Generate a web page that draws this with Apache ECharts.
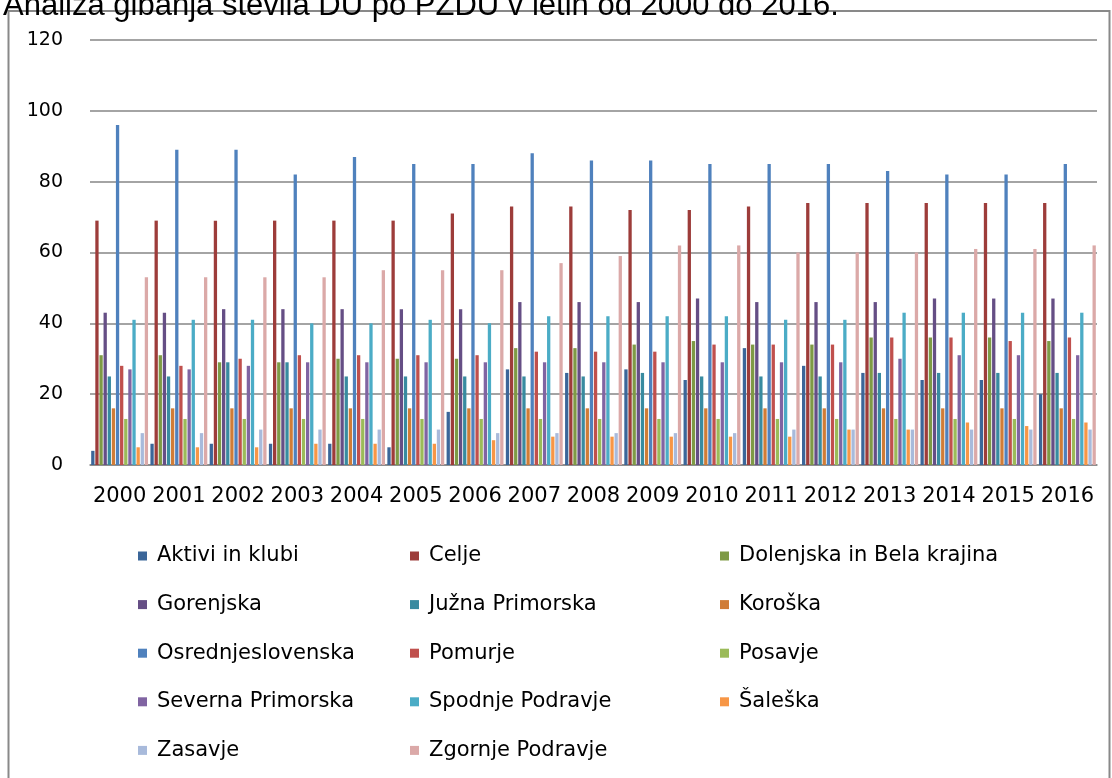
<!DOCTYPE html>
<html>
<head>
<meta charset="utf-8">
<script src="https://cdn.jsdelivr.net/npm/echarts@6/dist/echarts.min.js"></script>
<style>
  html, body { margin: 0; padding: 0; background: #fff; }
  #chart { width: 1112px; height: 778px; }
</style>
</head>
<body>
<div id="chart"></div>
<script>
// leta (kategorije)
var years = ['2000', '2001', '2002', '2003', '2004', '2005', '2006', '2007', '2008',
  '2009', '2010', '2011', '2012', '2013', '2014', '2015', '2016'];

var yTicks = [0, 20, 40, 60, 80, 100, 120];

// število DU po PZDU
var aktivi      = [4, 6, 6, 6, 6, 5, 15, 27, 26, 27, 24, 33, 28, 26, 24, 24, 20];
var celje       = [69, 69, 69, 69, 69, 69, 71, 73, 73, 72, 72, 73, 74, 74, 74, 74, 74];
var dolenjska   = [31, 31, 29, 29, 30, 30, 30, 33, 33, 34, 35, 34, 34, 36, 36, 36, 35];
var gorenjska   = [43, 43, 44, 44, 44, 44, 44, 46, 46, 46, 47, 46, 46, 46, 47, 47, 47];
var juzna       = [25, 25, 29, 29, 25, 25, 25, 25, 25, 26, 25, 25, 25, 26, 26, 26, 26];
var koroska     = [16, 16, 16, 16, 16, 16, 16, 16, 16, 16, 16, 16, 16, 16, 16, 16, 16];
var osrednje    = [96, 89, 89, 82, 87, 85, 85, 88, 86, 86, 85, 85, 85, 83, 82, 82, 85];
var pomurje     = [28, 28, 30, 31, 31, 31, 31, 32, 32, 32, 34, 34, 34, 36, 36, 35, 36];
var posavje     = [13, 13, 13, 13, 13, 13, 13, 13, 13, 13, 13, 13, 13, 13, 13, 13, 13];
var severna     = [27, 27, 28, 29, 29, 29, 29, 29, 29, 29, 29, 29, 29, 30, 31, 31, 31];
var spodnje     = [41, 41, 41, 40, 40, 41, 40, 42, 42, 42, 42, 41, 41, 43, 43, 43, 43];
var saleska     = [5, 5, 5, 6, 6, 6, 7, 8, 8, 8, 8, 8, 10, 10, 12, 11, 12];
var zasavje     = [9, 9, 10, 10, 10, 10, 9, 9, 9, 9, 9, 10, 10, 10, 10, 10, 10];
var zgornje     = [53, 53, 53, 53, 55, 55, 55, 57, 59, 62, 62, 60, 60, 60, 61, 61, 62];

var names = ['Aktivi in klubi', 'Celje', 'Dolenjska in Bela krajina', 'Gorenjska',
  'Južna Primorska', 'Koroška', 'Osrednjeslovenska', 'Pomurje', 'Posavje',
  'Severna Primorska', 'Spodnje Podravje', 'Šaleška', 'Zasavje', 'Zgornje Podravje'];
var values = [aktivi, celje, dolenjska, gorenjska, juzna, koroska, osrednje,
  pomurje, posavje, severna, spodnje, saleska, zasavje, zgornje];
var colors = ['#3b6699', '#9d3c3a', '#7e9a45', '#654e85', '#388ba0', '#d07c36',
  '#4f81bd', '#c0504d', '#9bbb59', '#8064a2', '#4bacc6', '#f79646', '#a8badb', '#dba9a8'];

var chart = echarts.init(document.getElementById('chart'));

var font = 'DejaVu Sans';
var rowGap = 48.6;

function legendCol(left, idx) {
  return {
    orient: 'vertical',
    left: left,
    top: 539,
    icon: 'rect',
    itemWidth: 9,
    itemHeight: 9,
    itemGap: rowGap - 24,
    selectedMode: false,
    data: idx.map(function (i) { return names[i]; }),
    textStyle: {
      fontFamily: font,
      fontSize: 21,
      color: '#000',
      lineHeight: 24,
      padding: [0, 0, 0, 5]
    }
  };
}

chart.setOption({
  animation: false,
  color: colors,
  title: {
    text: 'Analiza gibanja števila DU po PZDU v letih od 2000 do 2016.',
    left: -2,
    top: -14,
    textStyle: {
      fontFamily: 'Liberation Sans',
      fontWeight: 'normal',
      fontSize: 31,
      color: '#000'
    }
  },
  graphic: [{
    type: 'rect',
    shape: { x: 8.5, y: 11, width: 1101, height: 800 },
    style: { fill: 'none', stroke: '#898989', lineWidth: 2 },
    silent: true
  }],
  legend: [
    legendCol(133, [0, 3, 6, 9, 12]),
    legendCol(405, [1, 4, 7, 10, 13]),
    legendCol(715, [2, 5, 8, 11])
  ],
  grid: {
    left: 90,
    right: 15,
    top: 40,
    bottom: 313
  },
  xAxis: {
    type: 'category',
    data: years,
    axisTick: { show: false },
    axisLine: { lineStyle: { color: '#868686', width: 1.5 } },
    axisLabel: {
      fontFamily: font,
      fontSize: 21,
      color: '#000',
      margin: 21,
      interval: 0
    }
  },
  yAxis: {
    type: 'value',
    min: yTicks[0],
    max: yTicks[yTicks.length - 1],
    interval: 20,
    axisLine: { show: false },
    axisTick: { show: false },
    splitLine: { lineStyle: { color: '#868686', width: 1.5 } },
    axisLabel: {
      fontFamily: font,
      fontSize: 19,
      color: '#000',
      margin: 27
    }
  },
  series: names.map(function (n, i) {
    return {
      name: n,
      type: 'bar',
      data: values[i],
      barGap: '25%',
      barCategoryGap: '4%'
    };
  })
});
</script>
</body>
</html>
